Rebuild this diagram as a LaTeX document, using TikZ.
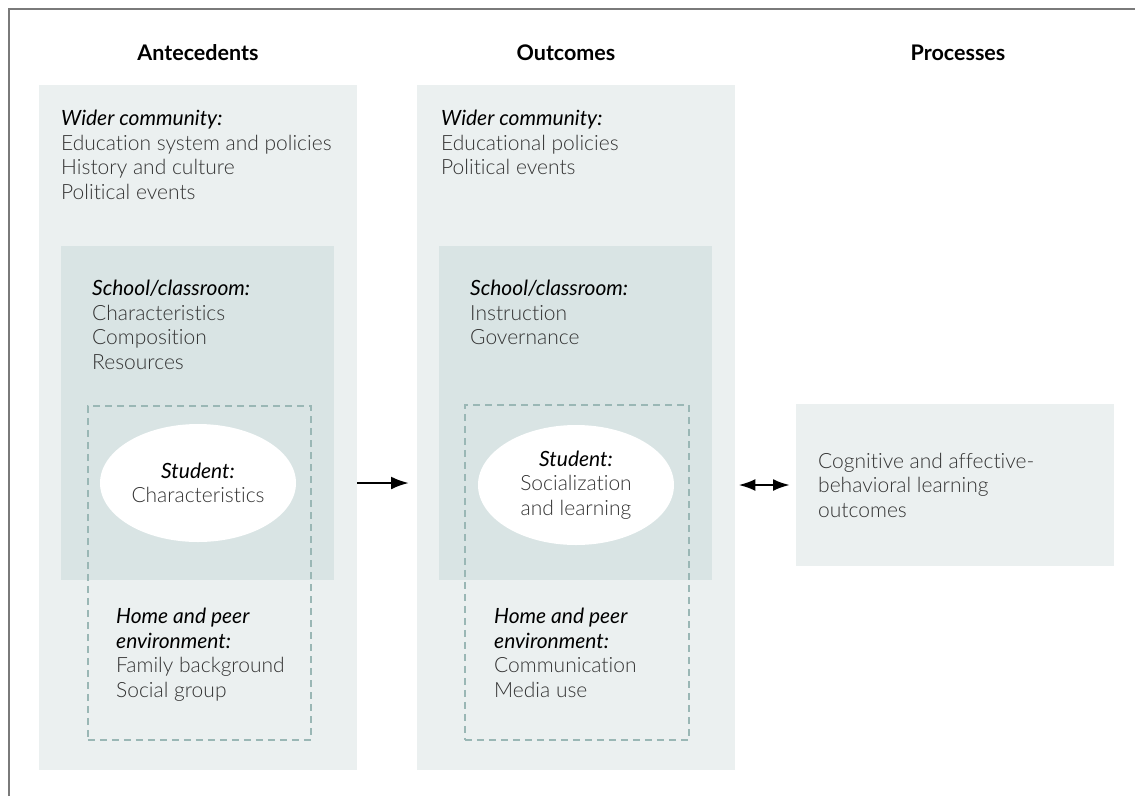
\documentclass[tikz,border=0pt]{standalone}
\usepackage{fontspec}
\setmainfont{Lato}[Ligatures=NoCommon]
\newfontfamily\lightfont{Lato Light}[Ligatures=NoCommon]
\usetikzlibrary{shapes.geometric,arrows.meta}

\definecolor{paleteal}{HTML}{EBF0F0}
\definecolor{midteal}{HTML}{D9E4E4}
\definecolor{dashteal}{HTML}{9AB7B5}
\definecolor{bodygrey}{HTML}{333333}
\definecolor{framegrey}{HTML}{7A7A7A}

\newcommand{\lbl}[1]{{\rmfamily\itshape\color{black}#1}}

\tikzset{
  outerbox/.style={fill=paleteal, inner sep=0pt, anchor=north west},
  innerbox/.style={fill=midteal, inner sep=0pt, anchor=north west},
  dashbox/.style={draw=dashteal, line width=1.5pt, dash pattern=on 7pt off 5pt, inner sep=0pt, anchor=north west},
  student/.style={ellipse, fill=white, inner sep=0pt, align=center, text=bodygrey,
    font=\lightfont\fontsize{21}{24.5}\selectfont},
  blurb/.style={anchor=north west, inner sep=0pt, align=left, text=bodygrey,
    font=\lightfont\fontsize{21}{24.5}\selectfont},
  colhead/.style={anchor=base, font=\bfseries\fontsize{21.5}{24}\selectfont},
  link/.style={line width=2.6pt, -{Latex[length=18pt,width=13pt]}},
  twoway/.style={line width=2.6pt, {Latex[length=17pt,width=12pt]}-{Latex[length=17pt,width=12pt]}},
}

\begin{document}
\begin{tikzpicture}[x=1pt,y=-1pt]
\useasboundingbox (0,0) rectangle (1135,796);
\draw[framegrey, line width=2pt] (9,796) |- (1135,9);

% column headings
\node[colhead] (hant) at (198,60) {Antecedents};
\node[colhead] (hout) at (566,60) {Outcomes};
\node[colhead] (hpro) at (958,60) {Processes};

% antecedents
\node[outerbox, minimum width=318pt, minimum height=685pt] (antec) at (39,85) {};
\node[innerbox, minimum width=273pt, minimum height=334pt] (school1) at (61,246) {};
\node[student, minimum width=196pt, minimum height=118pt] (stud1) at (198,483)
  {\lbl{Student:}\\Characteristics};
\node[dashbox, minimum width=223pt, minimum height=334pt] (home1) at (87,405) {};

\node[blurb] (wider1) at (61,110) {\lbl{Wider community:}\\Education system and policies\\History and culture\\Political events};
\node[blurb] (class1) at (92,280) {\lbl{School/classroom:}\\Characteristics\\Composition\\Resources};
\node[blurb] (peer1) at (116,608) {\lbl{Home and peer}\\\lbl{environment:}\\Family background\\Social group};

% outcomes
\node[outerbox, minimum width=318pt, minimum height=685pt] (outc) at (417,85) {};
\node[innerbox, minimum width=273pt, minimum height=334pt] (school2) at (439,246) {};
\node[student, minimum width=196pt, minimum height=120pt] (stud2) at (576,485)
  {\lbl{Student:}\\Socialization\\and learning};
\node[dashbox, minimum width=224pt, minimum height=335pt] (home2) at (464,404) {};

\node[blurb] (wider2) at (441,110) {\lbl{Wider community:}\\Educational policies\\Political events};
\node[blurb] (class2) at (470,280) {\lbl{School/classroom:}\\Instruction\\Governance};
\node[blurb] (peer2) at (494,608) {\lbl{Home and peer}\\\lbl{environment:}\\Communication\\Media use};

% processes
\node[outerbox, minimum width=318pt, minimum height=162pt] (proc) at (796,404) {};
\node[blurb] (learn) at (818,453) {Cognitive and affective-\\behavioral learning\\outcomes};

% arrows
\draw[link, shorten >=8pt] (antec.east |- stud1.center) -- (outc.west |- stud1.center);
\draw[twoway, shorten <=3pt, shorten >=6pt]
  (outc.east |- stud2.center) -- (proc.west |- stud2.center);
\end{tikzpicture}
\end{document}
